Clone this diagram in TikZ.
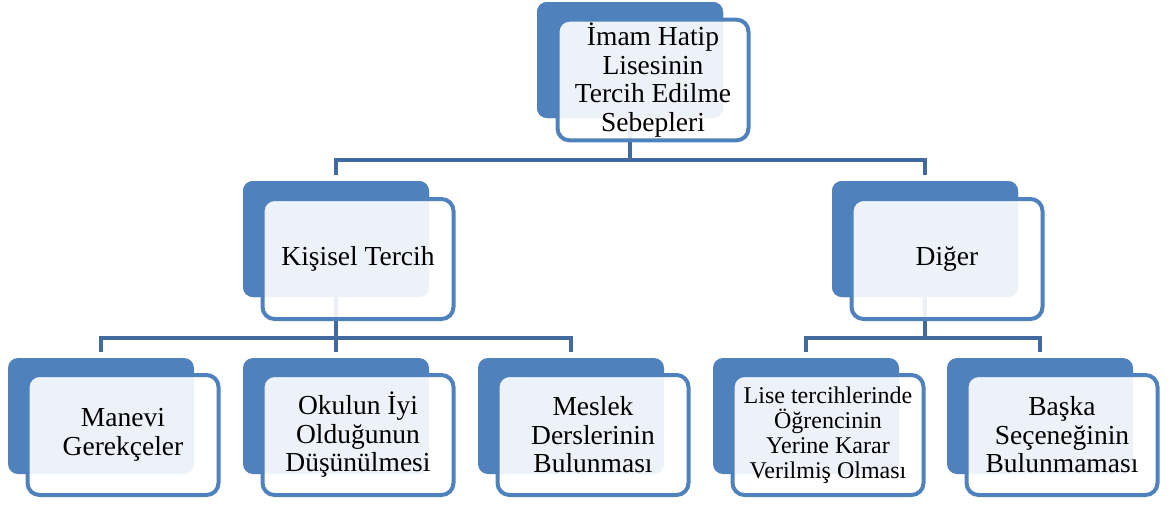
\documentclass[tikz,border=0pt]{standalone}
\usepackage{fontspec}
\setmainfont{Liberation Serif}
\definecolor{boxblue}{RGB}{79,129,189}
\definecolor{lineblue}{RGB}{66,106,160}

\begin{document}
\begin{tikzpicture}[x=1pt,y=-1pt,
		back/.style={rectangle,rounded corners=10pt,fill=boxblue,
			minimum width=186pt,minimum height=116pt},
		front/.style={rectangle,rounded corners=12pt,draw=boxblue,line width=4pt,
			fill=white,fill opacity=0.9,text opacity=1,align=center,
			minimum width=191pt,minimum height=120pt,
			font=\fontsize{27.5}{28.5}\selectfont},
		link/.style={draw=lineblue,line width=4.5pt}]
		\useasboundingbox (0,0) rectangle (1168,504);
		% back boxes
		\node[back](topb) at (630,60){};
		\node[back](kisb) at (336,239){};
		\node[back](digb) at (925,239){};
		\node[back](manb) at (101,416){};
		\node[back](okub) at (336,416){};
		\node[back](mesb) at (571,416){};
		\node[back](lisb) at (806,416){};
		\node[back](basb) at (1040,416){};
		% connectors
		\draw[link] (topb.center) -- (topb |- 0,160);
		\draw[link] ([yshift=6pt]kisb.north) |- (topb |- 0,160) -| ([yshift=6pt]digb.north);
		\draw[link] (kisb.center) -- (kisb |- 0,338);
		\draw[link] ([yshift=6pt]manb.north) |- (kisb |- 0,338) -| ([yshift=6pt]mesb.north);
		\draw[link] ([yshift=6pt]okub.north) -- (kisb |- 0,338);
		\draw[link] (digb.center) -- (digb |- 0,338);
		\draw[link] ([yshift=6pt]lisb.north) |- (digb |- 0,338) -| ([yshift=6pt]basb.north);
		\node[back] at (topb){};
		\node[back] at (kisb){};
		\node[back] at (digb){};
		% front boxes
		\node[front](top) at ([shift={(23,20)}]topb){İmam Hatip\\Lisesinin\\Tercih Edilme\\Sebepleri};
		\node[front](kis) at ([shift={(22,20)}]kisb){Kişisel Tercih};
		\node[front](dig) at ([shift={(22,20)}]digb){Diğer};
		\node[front](man) at ([shift={(22,19)}]manb){Manevi\\Gerekçeler};
		\node[front](oku) at ([shift={(22,19)}]okub){Okulun İyi\\Olduğunun\\Düşünülmesi};
		\node[front](mes) at ([shift={(22,19)}]mesb){Meslek\\Derslerinin\\Bulunması};
		\node[front,font=\fontsize{24}{25}\selectfont](lis) at ([shift={(22,19)}]lisb){Lise tercihlerinde\\Öğrencinin\\Yerine Karar\\Verilmiş Olması};
		\node[front](bas) at ([shift={(22,19)}]basb){Başka\\Seçeneğinin\\Bulunmaması};
	\end{tikzpicture}
\end{document}
